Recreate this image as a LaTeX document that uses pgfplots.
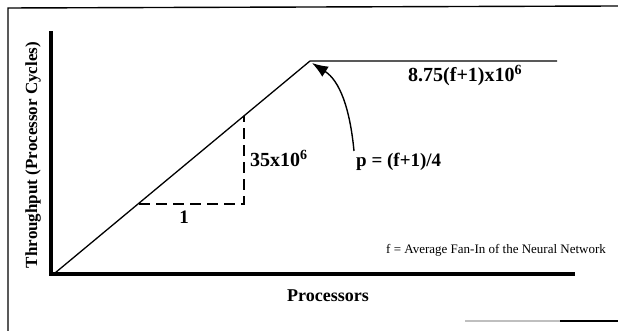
\documentclass[border=0pt]{standalone}
\usepackage{pgfplots}
\pgfplotsset{compat=1.18}
\usepackage{fontspec}
\setmainfont{Liberation Serif}
\usetikzlibrary{arrows.meta}
\begin{document}
\begin{tikzpicture}
\begin{axis}[
  x=1pt, y=1pt,
  xmin=51, xmax=573, ymin=57, ymax=298,
  axis lines=left,
  axis line style={line width=4pt, -, line cap=rect},
  every outer x axis line/.append style={-},
  every outer y axis line/.append style={-},
  xtick=\empty, ytick=\empty,
  clip=false,
]
\coordinate (BL) at (axis cs:0,0);
\coordinate (TR) at (axis cs:618,331);
% frame
\draw[line width=1.4pt] (axis cs:8,0) -- (axis cs:8,323) -- (axis cs:618,325);
\draw[gray!50, line width=1.2pt] (axis cs:465,10) -- (axis cs:560,10);
\draw[black, line width=1.5pt] (axis cs:560,10) -- (axis cs:618,10);
% throughput curve
\addplot[black, line width=1.3pt] coordinates {(55,58) (310,270) (557,270)};
% slope triangle
\addplot[black, line width=1.3pt, dash pattern=on 11pt off 6pt] coordinates {(139,127) (244,127) (244,215)};
% arrow
\draw[line width=1.4pt, -{Latex[length=16pt,width=12pt]}] (axis cs:354,180) .. controls (axis cs:350,222) and (axis cs:340,250) .. (axis cs:312,268);
% labels
\node[anchor=base, font=\fontsize{19}{22}\selectfont\bfseries] at (axis cs:184,107) {1};
\node[anchor=base west, inner sep=0pt, font=\fontsize{20}{23}\selectfont\bfseries] at (axis cs:250,164) {35x10\textsuperscript{6}};
\node[anchor=base west, inner sep=0pt, font=\fontsize{19}{22}\selectfont\bfseries] at (axis cs:356,164) {p = (f+1)/4};
\node[anchor=base west, inner sep=0pt, font=\fontsize{20}{23}\selectfont\bfseries] at (axis cs:408,249) {8.75(f+1)x10\textsuperscript{6}};
\node[anchor=base west, inner sep=0pt, font=\fontsize{13}{15}\selectfont] at (axis cs:386,77) {f = Average Fan-In of the Neural Network};
\node[anchor=base west, inner sep=0pt, font=\fontsize{18}{21}\selectfont\bfseries] at (axis cs:287,29) {Processors};
\node[rotate=90, anchor=center, inner sep=0pt, font=\fontsize{17}{20}\selectfont\bfseries] at (axis cs:33,176) {Throughput (Processor Cycles)};
\end{axis}
\pgfresetboundingbox
\path[use as bounding box] (BL) rectangle (TR);
\end{tikzpicture}
\end{document}
